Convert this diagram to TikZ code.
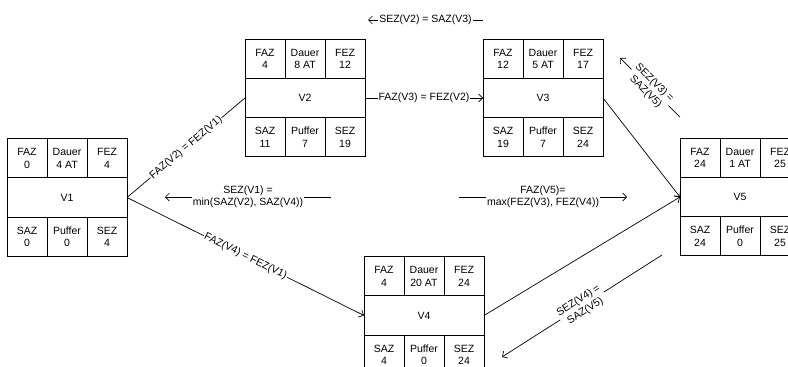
\documentclass[tikz,border=0pt]{standalone}
\usepackage{fontspec}
\setmainfont{Liberation Sans}
\usetikzlibrary{positioning,arrows.meta}

\begin{document}
\begin{tikzpicture}[
  x=1pt, y=-1pt,
  >={Straight Barb[length=4pt,width=8pt]},
  line width=0.7pt,
  txt/.style={font=\fontsize{10.5}{12.5}\selectfont},
  cell/.style={draw, txt, minimum width=40pt, minimum height=39pt,
               inner sep=0pt, outer sep=0pt, align=center},
  midcell/.style={draw, txt, minimum width=120pt, minimum height=39.5pt,
                  inner sep=0pt, outer sep=0pt},
  lbl/.style={txt, fill=white, inner sep=1pt, align=center},
]

\useasboundingbox (0,0) rectangle (788,367);

% ===== Vorgaenge (middle row, then top and bottom rows) ========================
\foreach \n/\x/\y/\t/\faz/\dau/\fez/\saz/\puf/\sez in {
    v1/67/197.5/V1/0/4 AT/4/0/0/4,
    v2/305/98/V2/4/8 AT/12/11/7/19,
    v3/543/98/V3/12/5 AT/17/19/7/24,
    v4/424/315.5/V4/4/20 AT/24/4/0/24,
    v5/740/197/V5/24/1 AT/25/24/0/25}{
  \node[midcell] (\n) at (\x,\y) {\t};
  % top row
  \node[cell, anchor=south west] (\n-faz) at (\n.north west) {FAZ\\\faz};
  \node[cell, right=0pt of \n-faz] (\n-dau) {Dauer\\\dau};
  \node[cell, right=0pt of \n-dau] (\n-fez) {FEZ\\\fez};
  % bottom row
  \node[cell, anchor=north west] (\n-saz) at (\n.south west) {SAZ\\\saz};
  \node[cell, right=0pt of \n-saz] (\n-puf) {Puffer\\\puf};
  \node[cell, right=0pt of \n-puf] (\n-sez) {SEZ\\\sez};
}

% ===== Vorwaertsrechnung =======================================================
\draw (v1.east) -- node[lbl, sloped] {FAZ(V2) = FEZ(V1)} (v2.west);
\draw[->] (v1.east) -- node[lbl, sloped] {FAZ(V4) = FEZ(V1)} (v4.west);
\draw[->] (v2.east) -- node[lbl] {FAZ(V3) = FEZ(V2)} (v3.west);
\draw[->] (v3.east) -- (v5.west);
\draw[->] (v4.east) -- (v5.west);

\coordinate (f5a) at (459,197);
\coordinate (f5b) at (627,197);
\draw[->] (f5a) -- node[lbl] {FAZ(V5)=\\max(FEZ(V3), FEZ(V4))} (f5b);

% ===== Rueckwaertsrechnung =====================================================
\coordinate (r23a) at (483,20);
\coordinate (r23b) at (368,20);
\draw[->] (r23a) -- node[lbl] {SEZ(V2) = SAZ(V3)} (r23b);

\coordinate (r1a) at (331,197);
\coordinate (r1b) at (165,197);
\draw[->] (r1a) -- node[lbl] {SEZ(V1) =\\min(SAZ(V2), SAZ(V4))} (r1b);

\coordinate (r35a) at (680,117);
\coordinate (r35b) at (620,58);
\draw[->] (r35a) -- node[lbl, sloped] {SEZ(V3) =\\SAZ(V5)} (r35b);

\coordinate (r45a) at (662,255);
\coordinate (r45b) at (502,357);
\draw[->] (r45a) -- node[lbl, sloped] {SEZ(V4) =\\SAZ(V5)} (r45b);

\end{tikzpicture}
\end{document}
